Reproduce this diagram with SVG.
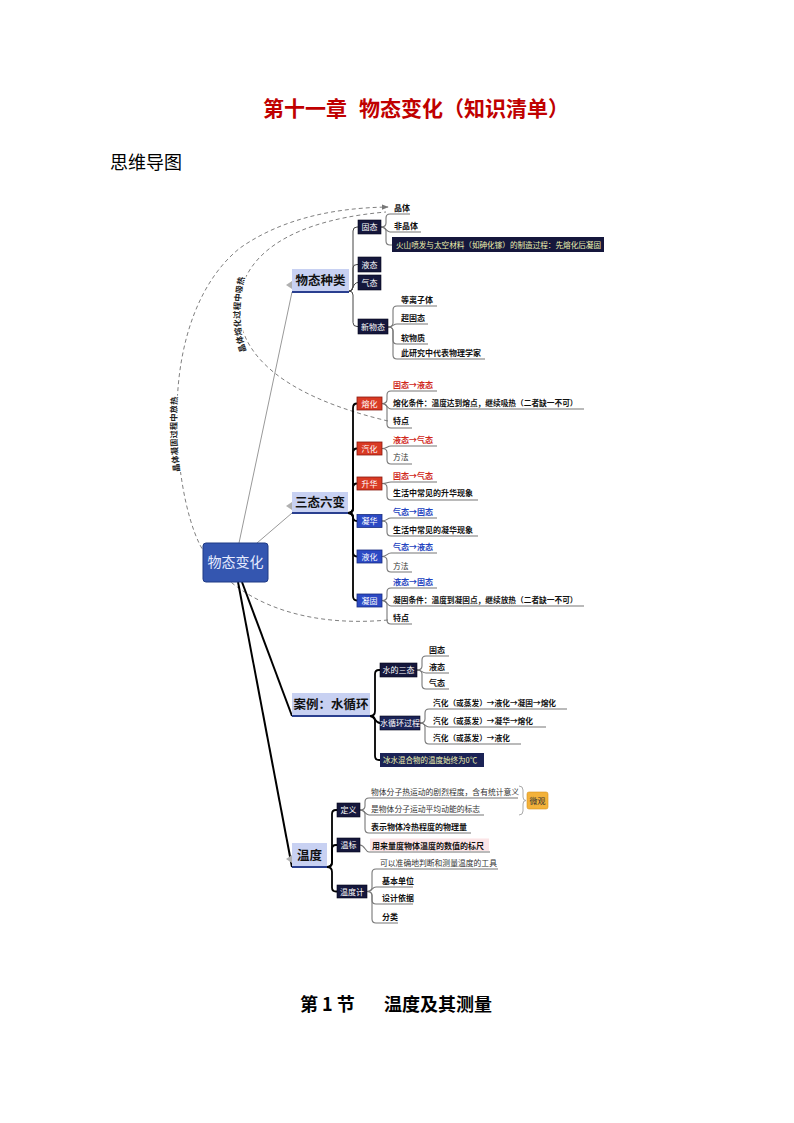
<svg xmlns="http://www.w3.org/2000/svg" width="794" height="1123" viewBox="0 0 794 1123">
<defs>
<style>
text { font-family: "Noto Sans CJK SC", "Noto Sans", sans-serif; }
.lf { font-size: 8px; font-weight: bold; fill: #111; }
.lg { font-size: 7.7px; font-weight: bold; fill: #111; }
.ln { font-size: 7.8px; fill: #333; }
.rd { fill: #d0281a; }
.bl { fill: #2343c0; }
.dk rect { fill: #15173c; stroke: #05051a; stroke-width: .6; }
.dk text, .rb text, .bb text { fill: #fff; font-size: 8px; text-anchor: middle; }
.rb rect { fill: #d93a24; stroke: #8b1a0f; stroke-width: .8; }
.bb rect { fill: #2b49c4; stroke: #1a2e80; stroke-width: .8; }
.mb rect { fill: #c8d1f2; }
.mb line { stroke: #2a3f8f; stroke-width: 2; }
.mb text { font-size: 12.5px; font-weight: bold; fill: #111; text-anchor: middle; }
.mb polygon { fill: #b0b0b0; }
.c { fill: none; stroke: #444; stroke-width: 1; }
.ct { fill: none; stroke: #000; stroke-width: 1.8; }
.u { fill: none; stroke: #777; stroke-width: 1.1; }
.d { fill: none; stroke: #808080; stroke-width: 1; stroke-dasharray: 4 3; }
.al { font-size: 8.3px; font-weight: bold; fill: #222; stroke: #fff; stroke-width: 2.5; paint-order: stroke; }
</style>
<marker id="arr" viewBox="0 0 10 10" refX="9" refY="5" markerWidth="7" markerHeight="7" orient="auto" markerUnits="userSpaceOnUse">
<path d="M0 1 L10 5 L0 9 Z" fill="#777"/>
</marker>
<path id="innerLbl" d="M251 360 C238 340 236 300 248 268"/>
<path id="outerLbl" d="M181 480 C176 450 176 420 178 388"/>
</defs>
<rect width="794" height="1123" fill="#fff"/>

<text y="116" font-size="21" font-weight="bold" fill="#c00000"><tspan x="263">第十一章</tspan><tspan x="359">物态变化（知识清单）</tspan></text>
<text x="110" y="169" font-size="18" fill="#000">思维导图</text>
<text y="1011" font-size="18" font-weight="bold" fill="#000"><tspan x="300">第 1 节</tspan><tspan x="384">温度及其测量</tspan></text>

<g id="connectors">
<path class="d" d="M388 620 C300 628 230 600 200 545 C185 515 176 460 177 410 C178 340 200 280 240 248 C280 220 330 208 388 207" marker-end="url(#arr)"/>
<path class="d" d="M388 421 C320 405 250 375 240 320 C232 270 270 222 386 212"/>
<line x1="239" y1="543" x2="292" y2="292" stroke="#999" stroke-width="1"/>
<line x1="257" y1="543" x2="292" y2="513" stroke="#999" stroke-width="1"/>
<line x1="242" y1="582" x2="292" y2="716" stroke="#000" stroke-width="2"/>
<line x1="238" y1="582" x2="292" y2="867" stroke="#000" stroke-width="2"/>
<path class="c" d="M349 291 Q353 291 353 287 V231 Q353 227 357 227 H358"/>
<path class="c" d="M349 291 Q353 291 353 287 V268 Q353 264.5 357 264.5 H358"/>
<path class="c" d="M349 291 C353 291 353 282.5 358 282.5"/>
<path class="c" d="M349 291 Q353 291 353 295 V322.5 Q353 326.5 357 326.5 H358"/>
<path class="u" d="M381 227 Q386 227 386 223 V218 Q386 214 390 214 H410"/>
<path class="u" d="M381 227 C386 227 386 232 390 232 H421"/>
<path class="u" d="M381 227 Q386 227 386 231 V241 Q386 245 390 245 H392"/>
<path class="u" d="M388 327 Q393 327 393 323 V310 Q393 306 397 306 H437"/>
<path class="u" d="M388 327 C393 327 393 324 397 324 H428"/>
<path class="u" d="M388 327 Q393 327 393 331 V340 Q393 344 397 344 H428"/>
<path class="u" d="M388 327 Q393 327 393 331 V355 Q393 359 397 359 H485"/>
<path class="ct" d="M348 513 Q353 513 353 508 V408 Q353 403.5 357 403.5"/>
<path class="ct" d="M348 513 Q353 513 353 508 V453 Q353 448.5 357 448.5"/>
<path class="ct" d="M348 513 Q353 513 353 508 V488 Q353 483.5 357 483.5"/>
<path class="ct" d="M348 513 Q353 513 353 517 Q353 521 357 521"/>
<path class="ct" d="M348 513 Q353 513 353 518 V552 Q353 556.5 357 556.5"/>
<path class="ct" d="M348 513 Q353 513 353 518 V596 Q353 600.5 357 600.5"/>
<path class="u" d="M382 403.5 Q387 403.5 387 399.5 V395 Q387 391 391 391 H437"/>
<path class="u" d="M382 403.5 C387 403.5 387 409 391 409 H584"/>
<path class="u" d="M382 403.5 Q387 403.5 387 407.5 V424 Q387 428 391 428 H412"/>
<path class="u" d="M382 448.5 C387 448.5 387 446 391 446 H437"/>
<path class="u" d="M382 448.5 Q387 448.5 387 452.5 V460 Q387 464 391 464 H412"/>
<path class="u" d="M382 483.5 C387 483.5 387 482 391 482 H437"/>
<path class="u" d="M382 483.5 Q387 483.5 387 487.5 V496 Q387 500 391 500 H478"/>
<path class="u" d="M382 521 C387 521 387 518 391 518 H437"/>
<path class="u" d="M382 521 Q387 521 387 525 V532 Q387 536 391 536 H478"/>
<path class="u" d="M382 556.5 C387 556.5 387 553 391 553 H437"/>
<path class="u" d="M382 556.5 Q387 556.5 387 560.5 V568 Q387 572 391 572 H412"/>
<path class="u" d="M382 600.5 Q387 600.5 387 596.5 V592 Q387 588 391 588 H437"/>
<path class="u" d="M382 600.5 C387 600.5 387 606 391 606 H584"/>
<path class="u" d="M382 600.5 Q387 600.5 387 604.5 V620 Q387 624 391 624 H412"/>
<path class="ct" d="M370 716 Q375 716 375 711 V674 Q375 670 379 670 H380"/>
<path class="ct" d="M370 716 C375 716 375 723 380 723"/>
<path class="ct" d="M370 716 Q375 716 375 721 V756 Q375 760 379 760 H380"/>
<path class="u" d="M417 670 Q422 670 422 666 V660 Q422 656 426 656 H449"/>
<path class="u" d="M417 670 C422 670 422 673 426 673 H449"/>
<path class="u" d="M417 670 Q422 670 422 674 V685 Q422 689 426 689 H449"/>
<path class="u" d="M420 723 Q425 723 425 719 V713 Q425 709 429 709 H567"/>
<path class="u" d="M420 723 C425 723 425 727 429 727 H546"/>
<path class="u" d="M420 723 Q425 723 425 727 V740 Q425 744 429 744 H521"/>
<path class="ct" d="M327 867 Q332 867 332 862 V814 Q332 810 336 810 H337"/>
<path class="ct" d="M327 867 Q332 867 332 862 V849 Q332 845 336 845 H337"/>
<path class="ct" d="M327 867 Q332 867 332 872 V887.5 Q332 891.5 336 891.5 H337"/>
<path class="u" d="M360 810 Q365 810 365 806 V802 Q365 798 369 798 H518"/>
<path class="u" d="M360 810 C365 810 365 815 369 815 H484"/>
<path class="u" d="M360 810 Q365 810 365 814 V829 Q365 833 369 833 H471"/>
<path class="u" d="M360 845 C365 845 365 852 369 852 H490"/>
<path class="u" d="M367 891.5 Q372 891.5 372 887.5 V873 Q372 869 376 869 H498"/>
<path class="u" d="M367 891.5 C372 891.5 372 887 376 887 H413"/>
<path class="u" d="M367 891.5 Q372 891.5 372 895.5 V900 Q372 904 376 904 H413"/>
<path class="u" d="M367 891.5 Q372 891.5 372 895.5 V919 Q372 923 376 923 H398"/>
<path fill="none" stroke="#aaa" stroke-width="1" d="M519 786 Q523 786 523 790 V797 Q523 800.5 526 800.5 Q523 800.5 523 804 V811 Q523 815 519 815"/>
<text class="al"><textPath href="#innerLbl" startOffset="50%" text-anchor="middle">晶体熔化过程中吸热</textPath></text>
<text class="al"><textPath href="#outerLbl" startOffset="50%" text-anchor="middle">晶体凝固过程中放热</textPath></text>
</g>

<g id="n-root">
<rect x="203" y="543" width="65" height="39" rx="3" fill="#3456b0" stroke="#1f3a85" stroke-width="1"/>
<text x="235.5" y="567" font-size="14" fill="#e6ebff" text-anchor="middle">物态变化</text>
</g>

<g id="n-wutaizhonglei" class="mb">
<polygon points="286,285 292,281 292,289"/>
<rect x="292" y="269" width="57" height="23"/>
<line x1="292" y1="292" x2="349" y2="292"/>
<text x="320.5" y="285">物态种类</text>
</g>
<g id="n-santai" class="mb">
<polygon points="286,506 292,502 292,510"/>
<rect x="292" y="492" width="56" height="21"/>
<line x1="292" y1="513" x2="348" y2="513"/>
<text x="320" y="507">三态六变</text>
</g>
<g id="n-anli" class="mb">
<rect x="292" y="693" width="78" height="23"/>
<line x1="292" y1="716" x2="370" y2="716"/>
<text x="331" y="709">案例：水循环</text>
</g>
<g id="n-wendu" class="mb">
<polygon points="286,859 292,855 292,863"/>
<rect x="292" y="843" width="35" height="24"/>
<line x1="292" y1="867" x2="327" y2="867"/>
<text x="309.5" y="860">温度</text>
</g>

<g id="n-gutai" class="dk"><rect x="358" y="220" width="23" height="14"/><text x="369.5" y="230">固态</text></g>
<g id="n-yetai" class="dk"><rect x="358" y="257" width="23" height="15"/><text x="369.5" y="267.5">液态</text></g>
<g id="n-qitai" class="dk"><rect x="358" y="275" width="23" height="15"/><text x="369.5" y="285.5">气态</text></g>
<g id="n-xinwutai" class="dk"><rect x="358" y="319" width="30" height="15"/><text x="373" y="329.5">新物态</text></g>

<g id="l-jingti"><text class="lf" x="394" y="211">晶体</text></g>
<g id="l-feijingti"><text class="lf" x="394" y="229">非晶体</text></g>
<g id="l-huoshan"><rect x="392" y="237" width="212" height="15" fill="#15173c"/><text x="396" y="248" font-size="7.6" fill="#eef2b0">火山喷发与太空材料（如砷化镓）的制造过程：先熔化后凝固</text></g>
<g id="l-dengli"><text class="lf" x="401" y="303">等离子体</text></g>
<g id="l-chaogu"><text class="lf" x="401" y="321">超固态</text></g>
<g id="l-ruanwu"><text class="lf" x="401" y="341">软物质</text></g>
<g id="l-yanjiu"><text class="lf" x="401" y="356">此研究中代表物理学家</text></g>

<g id="n-ronghua" class="rb"><rect x="357" y="397" width="25" height="13"/><text x="369.5" y="406.5">熔化</text></g>
<g id="n-qihua" class="rb"><rect x="357" y="442" width="25" height="13"/><text x="369.5" y="451.5">汽化</text></g>
<g id="n-shenghua" class="rb"><rect x="357" y="477" width="25" height="13"/><text x="369.5" y="486.5">升华</text></g>
<g id="n-ninghua" class="bb"><rect x="357" y="514.5" width="25" height="13"/><text x="369.5" y="524">凝华</text></g>
<g id="n-yehua" class="bb"><rect x="357" y="550" width="25" height="13"/><text x="369.5" y="559.5">液化</text></g>
<g id="n-ninggu" class="bb"><rect x="357" y="594" width="25" height="13"/><text x="369.5" y="603.5">凝固</text></g>

<g id="l-rh1"><text class="lf rd" x="393" y="388">固态→液态</text></g>
<g id="l-rh2"><text class="lg" x="393" y="406">熔化条件：温度达到熔点，继续吸热（二者缺一不可）</text></g>
<g id="l-rh3"><text class="lf" x="393" y="424">特点</text></g>
<g id="l-qh1"><text class="lf rd" x="393" y="443">液态→气态</text></g>
<g id="l-qh2"><text class="ln" x="393" y="460">方法</text></g>
<g id="l-sh1"><text class="lf rd" x="393" y="479">固态→气态</text></g>
<g id="l-sh2"><text class="lf" x="393" y="496">生活中常见的升华现象</text></g>
<g id="l-nh1"><text class="lf bl" x="393" y="515">气态→固态</text></g>
<g id="l-nh2"><text class="lf" x="393" y="533">生活中常见的凝华现象</text></g>
<g id="l-yh1"><text class="lf bl" x="393" y="550">气态→液态</text></g>
<g id="l-yh2"><text class="ln" x="393" y="569">方法</text></g>
<g id="l-ng1"><text class="lf bl" x="393" y="585">液态→固态</text></g>
<g id="l-ng2"><text class="lg" x="393" y="603">凝固条件：温度到凝固点，继续放热（二者缺一不可）</text></g>
<g id="l-ng3"><text class="lf" x="393" y="621">特点</text></g>

<g id="n-shuisantai" class="dk"><rect x="380" y="663" width="37" height="14"/><text x="398.5" y="673">水的三态</text></g>
<g id="n-xunhuan" class="dk"><rect x="380" y="716" width="40" height="14" style="fill:#1b2356"/><text x="400" y="726">水循环过程</text></g>
<g id="n-bingshui"><rect x="380" y="753" width="104" height="14" fill="#1b2356"/><text x="383" y="763" font-size="7.5" fill="#eef2b0">冰水混合物的温度始终为0℃</text></g>

<g id="l-s1"><text class="lf" x="429" y="653">固态</text></g>
<g id="l-s2"><text class="lf" x="429" y="670">液态</text></g>
<g id="l-s3"><text class="lf" x="429" y="686">气态</text></g>
<g id="l-x1"><text class="lg" x="433" y="706">汽化（或蒸发）→液化→凝固→熔化</text></g>
<g id="l-x2"><text class="lg" x="433" y="724">汽化（或蒸发）→凝华→熔化</text></g>
<g id="l-x3"><text class="lg" x="433" y="741">汽化（或蒸发）→液化</text></g>

<g id="n-dingyi" class="dk"><rect x="337" y="803" width="23" height="14"/><text x="348.5" y="813">定义</text></g>
<g id="n-wenbiao" class="dk"><rect x="337" y="838" width="23" height="14"/><text x="348.5" y="848">温标</text></g>
<g id="n-wenduji" class="dk"><rect x="337" y="885" width="30" height="13"/><text x="352" y="894.5">温度计</text></g>

<g id="l-d1"><text class="ln" x="371" y="795">物体分子热运动的剧烈程度，含有统计意义</text></g>
<g id="l-d2"><text class="ln" x="371" y="812">是物体分子运动平均动能的标志</text></g>
<g id="l-d3"><text class="lf" x="371" y="830">表示物体冷热程度的物理量</text></g>
<g id="n-weiguan"><rect x="527" y="792" width="21" height="17" rx="2" fill="#f3b23a" stroke="#d9921c" stroke-width=".6"/><text x="537.5" y="803.5" font-size="8" fill="#333" text-anchor="middle">微观</text></g>
<g id="l-wb"><rect x="370" y="838.5" width="119" height="12.5" fill="#fbe4e6"/><text class="lf" x="372" y="849">用来量度物体温度的数值的标尺</text></g>
<g id="l-j1"><text class="ln" x="380" y="866">可以准确地判断和测量温度的工具</text></g>
<g id="l-j2"><text class="lf" x="382" y="884">基本单位</text></g>
<g id="l-j3"><text class="lf" x="382" y="901">设计依据</text></g>
<g id="l-j4"><text class="lf" x="382" y="920">分类</text></g>
</svg>
